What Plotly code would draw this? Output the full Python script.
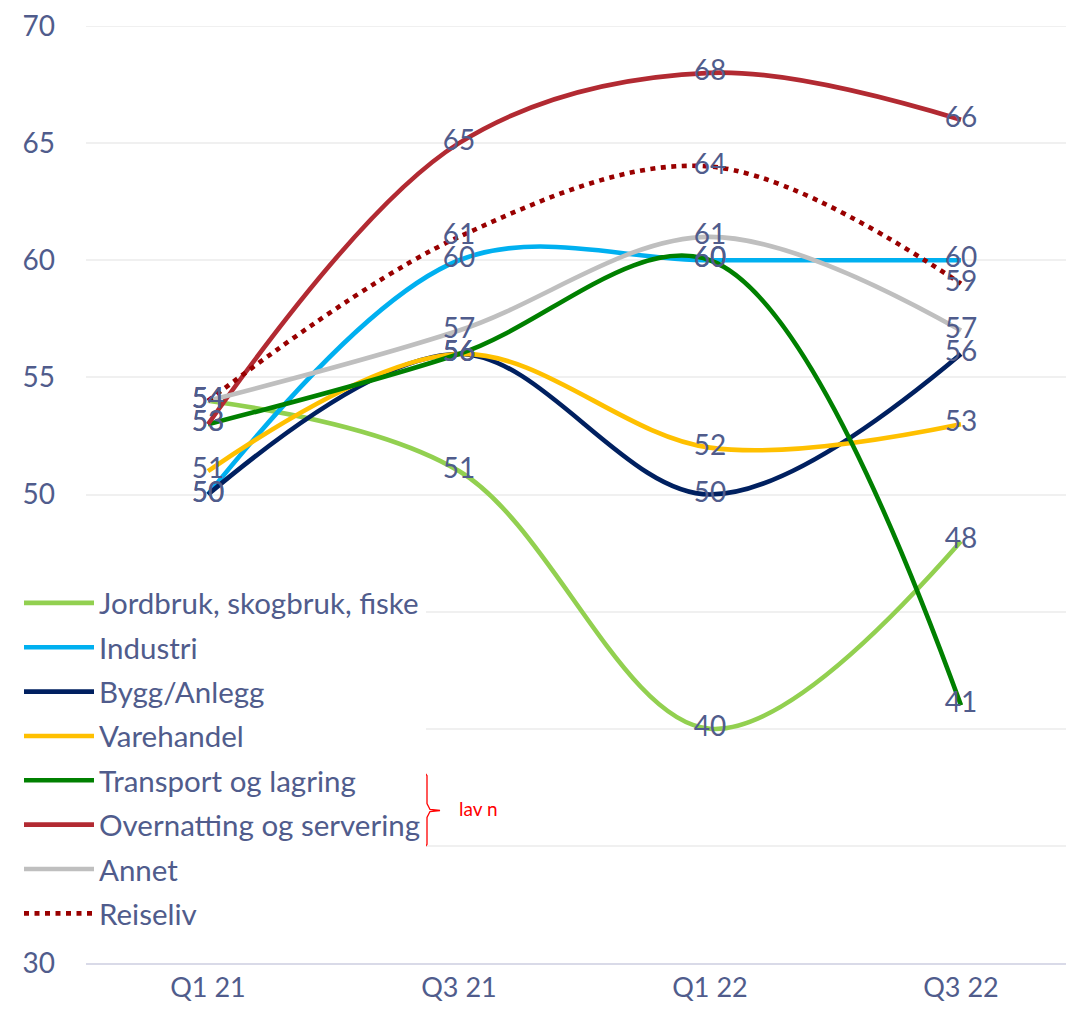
import plotly.graph_objects as go

categories = ["Q1 21", "Q3 21", "Q1 22", "Q3 22"]

jordbruk = [54, 51, 40, 48]
industri = [50, 60, 60, 60]
bygg = [50, 56, 50, 56]
varehandel = [51, 56, 52, 53]
transport = [53, 56, 60, 41]
overnatting = [53, 65, 68, 66]
annet = [54, 57, 61, 57]
reiseliv = [54, 61, 64, 59]

series_names = ["Jordbruk, skogbruk, fiske", "Industri", "Bygg/Anlegg", "Varehandel",
                "Transport og lagring", "Overnatting og servering", "Annet", "Reiseliv"]
series_values = [jordbruk, industri, bygg, varehandel, transport, overnatting, annet, reiseliv]
series_colors = ["#92D050", "#00B0F0", "#002060", "#FFC000", "#008000", "#B22A32", "#BFBFBF", "#990000"]

y_ticks = [30, 35, 40, 45, 50, 55, 60, 65, 70]

TXT = "#505C8C"
FONT = "Lato, Open Sans, sans-serif"
GRID = "#F0F0F0"

fig = go.Figure()
for name, vals, col in zip(series_names, series_values, series_colors):
    dash = "5px,5.5px" if name == "Reiseliv" else "solid"
    fig.add_trace(go.Scatter(
        x=categories, y=vals, name=name, mode="lines",
        line=dict(color=col, width=4.6, shape="spline", smoothing=1, dash=dash),
        legendgroup=name, hoverinfo="skip",
    ))
# data labels drawn on top of all lines
for name, vals in zip(series_names, series_values):
    fig.add_trace(go.Scatter(
        x=categories, y=vals, mode="text", text=[str(v) for v in vals],
        textposition="middle center", textfont=dict(color=TXT, size=28, family=FONT),
        showlegend=False, hoverinfo="skip",
    ))

OFF = 8  # page body margin
W, H = 1074, 1018
L, R, T = 86 - OFF, 0, 23 - OFF
B = H - (963 - OFF)
pw, ph = W - L - R, H - T - B

def px(x):
    return (x - OFF - L) / pw

def py(y):
    return (H - B - (y - OFF)) / ph

# top gridline (plotly skips the grid line on the plot edge)
fig.add_shape(type="line", xref="paper", yref="y", x0=0, x1=1, y0=y_ticks[-1], y1=y_ticks[-1],
              line=dict(color=GRID, width=2), layer="below")

# curly brace for "lav n"
pts = [(417, 770), (424, 771), (427, 775), (427, 803), (430, 809), (440, 810),
       (430, 811), (427, 817), (427, 844), (424, 848), (417, 849)]
path = "M " + " L ".join(f"{px(a):.5f},{py(b):.5f}" for a, b in pts)
fig.add_shape(type="path", path=path, xref="paper", yref="paper",
              line=dict(color="#FF0000", width=1.3))
fig.add_annotation(x=px(457), y=py(808), xref="paper", yref="paper", text="lav n",
                   showarrow=False, xanchor="left", yanchor="middle",
                   font=dict(color="#FF0000", size=19, family=FONT))

cat_step = 251.0
x_left = -0.486
x_right = x_left + pw / cat_step

fig.update_layout(
    width=W, height=H,
    margin=dict(l=L, r=R, t=T, b=B),
    plot_bgcolor="white", paper_bgcolor="white",
    font=dict(family=FONT, color=TXT, size=26),
    showlegend=True,
    legend=dict(
        x=px(19), y=py(576), xanchor="left", yanchor="top",
        bgcolor="white", borderwidth=0,
        font=dict(size=29.5, color=TXT, family=FONT),
        traceorder="grouped", tracegroupgap=3,
        itemwidth=70,
    ),
    xaxis=dict(
        type="category", range=[x_left, x_right],
        showgrid=False, showline=True, linecolor="#D9DAE8", linewidth=2,
        ticks="", tickfont=dict(size=27, color=TXT, family=FONT),
    ),
    yaxis=dict(
        range=[30, 70], tickvals=y_ticks, showgrid=True, gridcolor=GRID, gridwidth=2,
        zeroline=False, showline=False, ticks="", ticklabelstandoff=30,
        ticklabeloverflow="allow",
        tickfont=dict(size=28, color=TXT, family=FONT),
    ),
)

fig.write_html("out.html")
